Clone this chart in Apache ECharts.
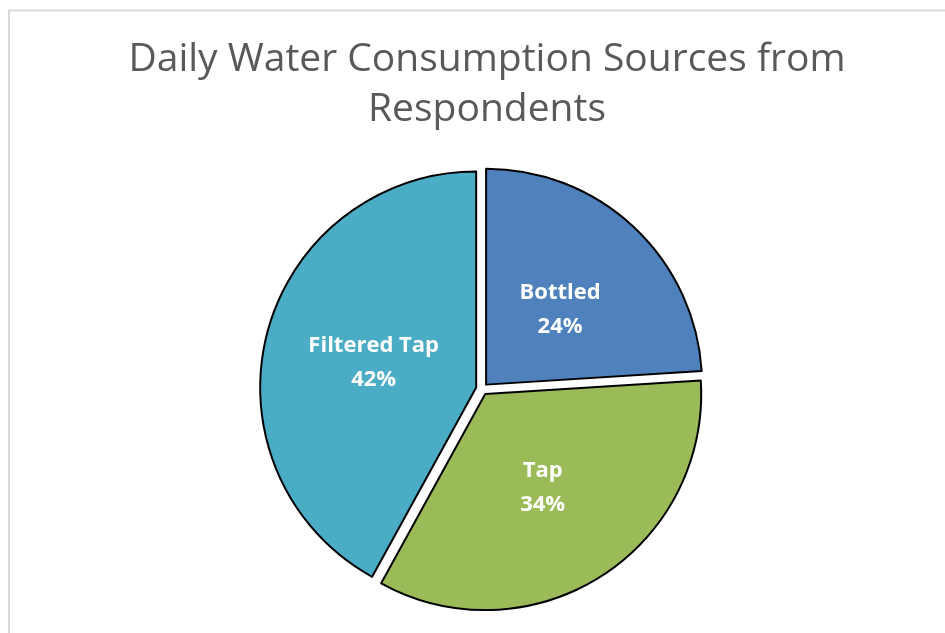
<!DOCTYPE html>
<html><head><meta charset="utf-8">
<script src="https://cdn.jsdelivr.net/npm/echarts@6/dist/echarts.min.js"></script>
<style>html,body{margin:0;padding:0;background:#fff}#c{width:945px;height:633px}</style>
</head><body><div id="c"></div>
<script>
const categories = ['Bottled', 'Tap', 'Filtered Tap'];
const values = [24, 34, 42];
const colors = ['#4F81BD', '#9BBB59', '#4BACC6'];
const titleText = 'Daily Water Consumption Sources from\nRespondents';
const labelShift = [[-2, 6], [-2, 0], [5, 3]];

const chart = echarts.init(document.getElementById('c'), null, {renderer: 'canvas'});
const itemBorder = {borderColor: '#000', borderWidth: 2};
chart.setOption({
  backgroundColor: '#fff',
  animation: false,
  title: {
    text: titleText,
    left: 482, textAlign: 'center', top: 30,
    textStyle: {fontFamily: 'Open Sans', fontWeight: 'normal', fontSize: 39, color: '#595959', lineHeight: 50}
  },
  graphic: [{
    type: 'rect', shape: {x: 9, y: 10.5, width: 1000, height: 700},
    style: {fill: null, stroke: '#d9d9d9', lineWidth: 2}, silent: true
  }],
  series: [{
    type: 'pie',
    center: [482, 389],
    radius: 216,
    startAngle: 90,
    clockwise: true,
    selectedMode: 'multiple',
    selectedOffset: 6,
    itemStyle: itemBorder,
    select: {itemStyle: itemBorder},
    emphasis: {disabled: true},
    label: {
      show: true, position: 'inside',
      formatter: p => p.name + '\n' + p.value + '%',
      color: '#fff', fontFamily: 'Open Sans', fontWeight: 'bold', fontSize: 22, lineHeight: 34
    },
    labelLayout: p => ({dx: labelShift[p.dataIndex][0], dy: labelShift[p.dataIndex][1]}),
    labelLine: {show: false},
    data: categories.map((c, i) => ({name: c, value: values[i], selected: true,
      itemStyle: {color: colors[i]}}))
  }]
});
</script></body></html>
